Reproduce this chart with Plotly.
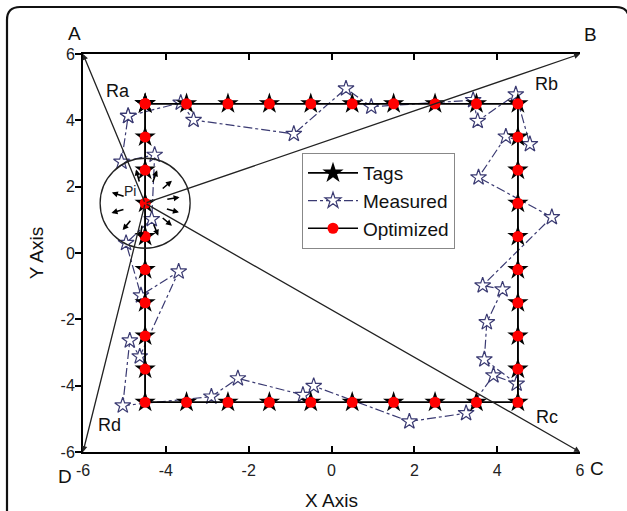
import numpy as np
import plotly.graph_objects as go

# ---- data -------------------------------------------------------------
# Reference tag grid: perimeter of the 9 m x 9 m square, walked clockwise
top_x = [-4.5, -3.5, -2.5, -1.5, -0.5, 0.5, 1.5, 2.5, 3.5, 4.5]
right_y = [3.5, 2.5, 1.5, 0.5, -0.5, -1.5, -2.5, -3.5, -4.5]
bottom_x = [3.5, 2.5, 1.5, 0.5, -0.5, -1.5, -2.5, -3.5, -4.5]
left_y = [-3.5, -2.5, -1.5, -0.5, 0.5, 1.5, 2.5, 3.5, 4.5]

tag_x = top_x + [4.5] * len(right_y) + bottom_x + [-4.5] * len(left_y)
tag_y = [4.5] * len(top_x) + right_y + [-4.5] * len(bottom_x) + left_y

# Optimized positions coincide with the tags
opt_x = list(tag_x)
opt_y = list(tag_y)

# Raw measured positions
meas_x = [-4.91, -3.64, -3.33, -0.91, 0.35, 0.96, 3.42, 3.53, 4.45, 4.79, 4.21,
          3.55, 5.32, 3.65, 4.13, 3.75, 3.69, 4.47, 3.91, 3.25, 1.88, -0.43,
          -0.69, -2.26, -2.90, -5.04, -4.87, -4.63, -3.69, -4.60, -4.96, -4.34,
          -4.27, -5.07, -4.91]
meas_y = [4.13, 4.53, 4.01, 3.59, 4.96, 4.41, 4.61, 3.98, 4.78, 3.28, 3.51,
          2.28, 1.08, -0.98, -1.10, -2.09, -3.21, -3.94, -3.69, -4.83, -5.08,
          -4.01, -4.28, -3.78, -4.33, -4.60, -2.64, -3.12, -0.56, -1.28, 0.30,
          1.02, 2.96, 2.75, 4.13]

tick_vals = [-6, -4, -2, 0, 2, 4, 6]
tick_text = ["-6", "-4", "-2", "0", "2", "4", "6"]

# Point Pi and the four anchors
pi_xy = (-4.5, 1.5)
anchors = {"A": (-6, 6), "B": (6, 6), "C": (6, -6), "D": (-6, -6)}
range_labels = {"Ra": (-5.15, 4.88), "Rb": (5.2, 5.1), "Rc": (5.2, -4.95), "Rd": (-5.35, -5.18)}
arrow_angles = [10, 40, 70, 105, 162, 196, 230, 262, 292, 320, 345]

# ---- geometry ---------------------------------------------------------
W, H = 627, 511
ML, MR, MT, MB = 83, 47, 54, 59
PW, PH = W - ML - MR, H - MT - MB
X_RANGE = [-6, 6]
Y_RANGE = [-6, 6]
XPX = PW / (X_RANGE[1] - X_RANGE[0])
YPX = PH / (Y_RANGE[1] - Y_RANGE[0])

FONT = "Liberation Sans, Arial, sans-serif"
NAVY = "#3a3a72"

fig = go.Figure()

fig.add_trace(go.Scatter(
    x=meas_x, y=meas_y, name="Measured", mode="lines+markers",
    line=dict(color=NAVY, width=1.2, dash="dashdot"),
    marker=dict(symbol="star", size=12, color="white",
                line=dict(color=NAVY, width=1.2)),
    legendrank=2,
))
fig.add_trace(go.Scatter(
    x=tag_x + tag_x[:1], y=tag_y + tag_y[:1], name="Tags", mode="lines+markers",
    line=dict(color="black", width=1.6),
    marker=dict(symbol="star", size=16, color="black"),
    legendrank=1,
))
fig.add_trace(go.Scatter(
    x=opt_x + opt_x[:1], y=opt_y + opt_y[:1], name="Optimized", mode="lines+markers",
    line=dict(color="black", width=1.6),
    marker=dict(symbol="circle", size=11, color="red"),
    legendrank=3,
))

annotations = []
# Range lines from Pi to each anchor
for name, (cx, cy) in anchors.items():
    annotations.append(dict(
        x=cx, y=cy, ax=pi_xy[0], ay=pi_xy[1], axref="x", ayref="y",
        xref="x", yref="y", text="", showarrow=True,
        arrowhead=2, arrowsize=0.9, arrowwidth=1.3, arrowcolor="#222",
    ))
for name, (lx, ly) in range_labels.items():
    annotations.append(dict(x=lx, y=ly, xref="x", yref="y", text=name,
                            showarrow=False, font=dict(size=18, color="#111", family=FONT)))

# Small radial arrows inside the search circle
r_in, r_out = 21, 35
for a in arrow_angles:
    t = np.deg2rad(a)
    hx = pi_xy[0] + r_out * np.cos(t) / XPX
    hy = pi_xy[1] + r_out * np.sin(t) / YPX
    annotations.append(dict(
        x=hx, y=hy, xref="x", yref="y", text="", showarrow=True,
        ax=(r_in - r_out) * np.cos(t), ay=-(r_in - r_out) * np.sin(t),
        arrowhead=2, arrowsize=0.75, arrowwidth=1.6, arrowcolor="black",
    ))
annotations.append(dict(x=pi_xy[0] - 0.36, y=pi_xy[1] + 0.36, xref="x", yref="y",
                        text="Pi", showarrow=False,
                        font=dict(size=14, color="#222", family=FONT)))

# Corner letters outside the frame (pixel -> paper)
def paper(px, py):
    return (px - ML) / PW, (H - MB - py) / PH

for name, (px, py) in {"A": (74, 33), "B": (590, 35), "C": (597, 468), "D": (65, 476)}.items():
    xp, yp = paper(px, py)
    annotations.append(dict(x=xp, y=yp, xref="paper", yref="paper", text=name,
                            showarrow=False, xanchor="center", yanchor="middle",
                            font=dict(size=19, color="#111", family=FONT)))

shapes = [
    dict(type="circle", xref="x", yref="y",
         x0=pi_xy[0] - 45 / XPX, x1=pi_xy[0] + 45 / XPX,
         y0=pi_xy[1] - 45 / YPX, y1=pi_xy[1] + 45 / YPX,
         line=dict(color="#222", width=1.3)),
]

# Rounded frame around the whole panel
L, T, R, B, rad = 7, 7, 629, 540, 13
pts = {k: paper(*v) for k, v in {
    "p1": (L + rad, T), "p2": (R - rad, T), "c2": (R, T), "p3": (R, T + rad),
    "p4": (R, B), "p5": (L, B), "p6": (L, T + rad), "c6": (L, T)}.items()}
path = ("M {p1[0]},{p1[1]} L {p2[0]},{p2[1]} Q {c2[0]},{c2[1]} {p3[0]},{p3[1]} "
        "L {p4[0]},{p4[1]} M {p5[0]},{p5[1]} L {p6[0]},{p6[1]} "
        "Q {c6[0]},{c6[1]} {p1[0]},{p1[1]}").format(**pts)
shapes.append(dict(type="path", xref="paper", yref="paper", path=path,
                   line=dict(color="#111", width=2.2)))

axis_common = dict(
    range=X_RANGE, tickmode="array", tickvals=tick_vals, ticktext=tick_text,
    showgrid=False, zeroline=False, automargin=False,
    showline=True, linecolor="black", linewidth=2,
    tickcolor="black", tickwidth=1.5, ticklen=6,
    tickfont=dict(size=16, color="#222", family=FONT),
)

fig.update_layout(
    width=W, height=H,
    margin=dict(l=ML, r=MR, t=MT, b=MB),
    paper_bgcolor="white", plot_bgcolor="white",
    font=dict(family=FONT),
    xaxis=dict(**axis_common, ticks="inside", mirror="ticks",
               ticklabelstandoff=3,
               title=dict(text="X Axis", font=dict(size=19, color="#111"), standoff=17)),
    yaxis=dict(**{**axis_common, "range": Y_RANGE}, ticks="outside", mirror=False,
               ticklabelstandoff=-3,
               title=dict(text="Y Axis", font=dict(size=19, color="#111"), standoff=12)),
    yaxis2=dict(range=Y_RANGE, tickmode="array", tickvals=tick_vals, overlaying="y",
                side="right", anchor="x", automargin=False,
                showgrid=False, zeroline=False, showline=True, linecolor="black",
                linewidth=2, ticks="inside", tickcolor="black", tickwidth=1.5,
                ticklen=6, showticklabels=False),
    legend=dict(x=paper(302, 0)[0], y=paper(0, 153)[1], xanchor="left", yanchor="top",
                bordercolor="#888", borderwidth=1, bgcolor="white",
                font=dict(size=19, color="#111", family=FONT),
                itemwidth=50, tracegroupgap=0),
    showlegend=True,
    annotations=annotations,
    shapes=shapes,
)

fig.write_html("out.html")
